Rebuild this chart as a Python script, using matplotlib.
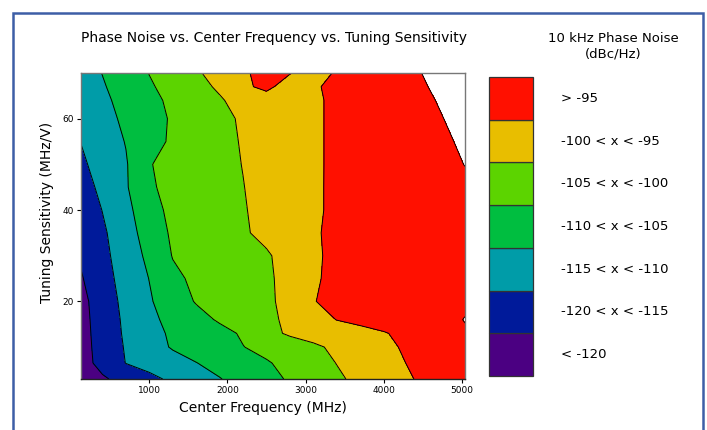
import numpy as np
import matplotlib
matplotlib.use('Agg')
import matplotlib.pyplot as plt
from matplotlib.patches import Rectangle

# center frequency grid (MHz) and tuning sensitivity grid (MHz/V)
freq = [125, 400, 700, 1000, 1300, 1600, 1900, 2200, 2500, 2800, 3100, 3400, 3700, 4000, 4300, 4650, 5042]
sens = [3, 6.5, 10, 13, 16, 20, 25, 30, 35, 40, 45, 50, 55, 60, 64, 67, 70]

# 10 kHz phase noise (dBc/Hz), one row per sensitivity value
noise = [
    [-122.7, -120.6, -118.4, -116.2, -114.1, -112.2, -110.2, -108.3, -106.4, -104.5, -102.6, -100.7, -98.9, -97.2, -95.5, -93.5, -91.2],
    [-121.9, -118.5, -114.9, -113.3, -111.7, -110.1, -108.5, -107.0, -105.4, -103.7, -101.8, -99.9, -98.3, -96.6, -94.9, -93.0, -90.8],
    [-121.8, -118.2, -114.6, -111.9, -109.6, -108.1, -106.6, -105.1, -103.7, -102.2, -100.7, -99.2, -97.6, -96.0, -94.4, -92.6, -90.5],
    [-121.7, -118.0, -114.3, -111.5, -109.3, -107.8, -106.3, -104.5, -101.3, -99.4, -98.4, -97.4, -96.3, -95.3, -93.9, -91.9, -90.3],
    [-121.6, -117.8, -114.1, -111.1, -108.6, -106.5, -104.5, -102.8, -101.0, -99.1, -96.9, -94.9, -94.0, -93.1, -92.2, -91.2, -89.9],
    [-121.4, -117.5, -113.7, -110.5, -107.3, -104.7, -103.4, -102.1, -100.8, -98.7, -95.1, -94.3, -93.6, -92.9, -92.2, -91.4, -90.5],
    [-120.4, -116.8, -113.2, -109.9, -106.0, -104.1, -103.0, -101.8, -100.7, -98.6, -95.3, -94.4, -93.7, -93.1, -92.4, -91.6, -90.8],
    [-119.4, -116.2, -112.7, -108.9, -104.8, -103.7, -102.6, -101.5, -100.5, -98.3, -95.4, -94.4, -93.7, -93.0, -92.4, -91.6, -90.8],
    [-119.0, -115.7, -112.2, -107.7, -104.3, -103.0, -101.7, -100.5, -98.9, -97.1, -95.3, -94.4, -93.7, -93.0, -92.3, -91.5, -90.6],
    [-118.0, -114.9, -111.5, -106.5, -104.0, -102.8, -101.5, -100.3, -98.7, -97.0, -95.4, -94.5, -93.8, -93.2, -92.5, -91.8, -90.9],
    [-117.0, -113.9, -110.5, -105.5, -103.9, -102.6, -101.3, -100.1, -98.6, -97.0, -95.4, -94.5, -93.7, -93.0, -92.3, -91.4, -90.5],
    [-115.8, -113.2, -110.4, -105.2, -103.8, -102.5, -101.2, -99.9, -98.4, -96.9, -95.5, -94.4, -93.6, -92.8, -92.0, -91.0, -89.95],
    [-114.9, -112.5, -109.8, -106.7, -104.3, -102.7, -101.2, -99.7, -98.3, -96.9, -95.5, -94.4, -93.5, -92.7, -91.8, -90.7, -89.6],
    [-113.8, -111.6, -109.1, -106.7, -104.5, -102.8, -101.0, -99.5, -98.1, -96.8, -95.5, -94.4, -93.4, -92.5, -91.5, -90.4, -89.1],
    [-113.1, -110.9, -108.6, -106.2, -104.1, -102.3, -100.5, -98.2, -96.0, -96.3, -95.5, -94.4, -93.3, -92.3, -91.2, -90.05, -88.6],
    [-112.6, -110.4, -108.0, -105.5, -103.5, -101.5, -99.3, -95.4, -94.5, -96.0, -95.3, -94.4, -93.3, -92.1, -91.0, -89.7, -88.2],
    [-112.2, -109.9, -107.3, -104.9, -102.7, -100.6, -98.2, -95.3, -94.3, -94.9, -96.0, -94.75, -93.4, -92.1, -90.8, -89.3, -87.6],
]

levels = [-130, -120, -115, -110, -105, -100, -95, -90]
colors = ['#4b0082', '#001a9a', '#009ca8', '#00be40', '#5cd400', '#e8be00', '#ff1000']
band_labels = ['< -120', '-120 < x < -115', '-115 < x < -110', '-110 < x < -105',
               '-105 < x < -100', '-100 < x < -95', '> -95']

W, H = 707, 430
fig = plt.figure(figsize=(W / 100, H / 100), dpi=100)

# blue frame round the picture
fig.patches.append(Rectangle((13 / W, -0.05), 690 / W, 1 - 13 / H + 0.05,
                             transform=fig.transFigure, fill=False,
                             edgecolor='#3d5ea6', linewidth=1.8))

ax = fig.add_axes([81 / W, 1 - 379 / H, 384 / W, 306 / H])
X, Y = np.meshgrid(freq, sens)
Z = np.array(noise)
ax.contourf(X, Y, Z, levels=levels, colors=colors)
ax.contour(X, Y, Z, levels=levels[1:], colors='black', linewidths=0.7, linestyles='solid')
ax.set_xlim(125, 5042)
ax.set_ylim(3, 70)
ax.set_xticks([1000, 2000, 3000, 4000, 5000])
ax.set_yticks([20, 40, 60])
ax.tick_params(labelsize=6.5, length=3, width=0.8, pad=2)
for s in ax.spines.values():
    s.set_color('#777777')
    s.set_linewidth(1)
ax.spines['bottom'].set_color('#222222')

fig.text(274 / W, 1 - 38 / H, 'Phase Noise vs. Center Frequency vs. Tuning Sensitivity',
         ha='center', va='center', fontsize=10)
fig.text(263 / W, 1 - 408 / H, 'Center Frequency (MHz)', ha='center', va='center', fontsize=10)
fig.text(47 / W, 1 - 212 / H, 'Tuning Sensitivity (MHz/V)', ha='center', va='center',
         rotation=90, fontsize=10)

# legend boxes
lax = fig.add_axes([489 / W, 1 - 376 / H, 44 / W, 299 / H])
bars = lax.bar(np.zeros(7), np.ones(7), bottom=np.arange(7), width=1, color=colors,
               edgecolor='#333333', linewidth=0.9)
for b in bars:
    b.set_clip_on(False)
lax.set_xlim(-0.5, 0.5)
lax.set_ylim(0, 7)
lax.axis('off')
for i, lab in enumerate(band_labels):
    lax.text(1.63, i + 0.5, lab, ha='left', va='center', fontsize=9.5,
             transform=lax.get_yaxis_transform())

fig.text(613 / W, 1 - 38 / H, '10 kHz Phase Noise', ha='center', va='center', fontsize=9.5)
fig.text(613 / W, 1 - 54 / H, '(dBc/Hz)', ha='center', va='center', fontsize=9.5)

fig.savefig('out.png', dpi=100)
